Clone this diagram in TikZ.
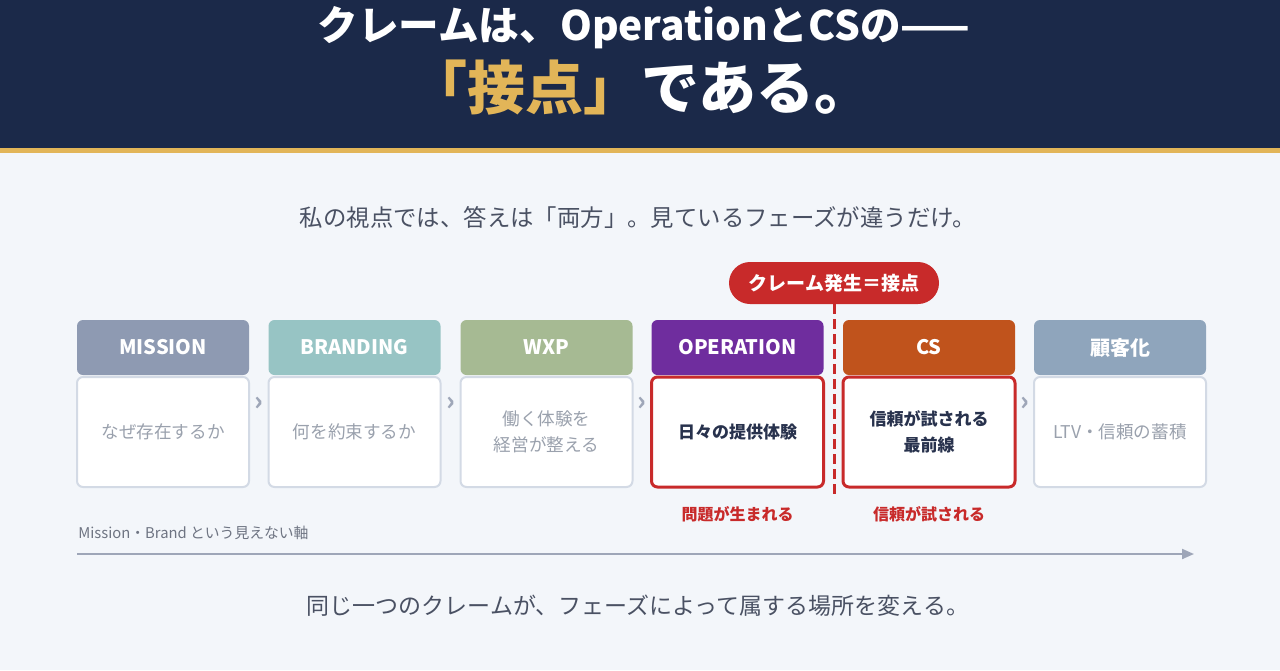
\documentclass[tikz,border=0pt]{standalone}
\usepackage{fontspec}
\setmainfont{Noto Sans CJK JP}
\usetikzlibrary{positioning,arrows.meta,calc}

\definecolor{navy}{HTML}{1B2949}
\definecolor{gold}{HTML}{E2B558}
\definecolor{pagebg}{HTML}{F3F6FA}
\definecolor{inktext}{HTML}{4A5163}
\definecolor{softtext}{HTML}{9AA1AD}
\definecolor{darktext}{HTML}{28324D}
\definecolor{claimred}{HTML}{C82A2A}
\definecolor{edgegrey}{HTML}{D3DAE5}
\definecolor{axisgrey}{HTML}{9EA6B8}
\definecolor{cmis}{HTML}{8E9AB2}
\definecolor{cbrd}{HTML}{97C4C4}
\definecolor{cwxp}{HTML}{A6BA93}
\definecolor{cops}{HTML}{6F2D9E}
\definecolor{ccs}{HTML}{C0531C}
\definecolor{ccust}{HTML}{8FA5BC}

\tikzset{
  headbox/.style={rounded corners=3pt, minimum width=86pt, minimum height=27.5pt,
    text=white, font=\bfseries\fontsize{10}{12}\selectfont, inner sep=0pt},
  plainbody/.style={draw=edgegrey, line width=1pt, fill=white, rounded corners=3pt,
    minimum width=86pt, minimum height=55pt, align=center, text=softtext,
    font=\fontsize{8.8}{13}\selectfont, inner sep=0pt},
  hotbody/.style={plainbody, draw=claimred, line width=1.5pt, text=darktext,
    font=\bfseries\fontsize{8.5}{13}\selectfont},
  chev/.style={text=axisgrey, font=\bfseries\fontsize{13}{13}\selectfont, inner sep=0pt},
  redlabel/.style={text=claimred, font=\bfseries\fontsize{8}{10}\selectfont, inner sep=0pt},
  badge/.style={fill=claimred, rounded corners=10.5pt, minimum width=105pt, minimum height=21pt,
    text=white, font=\bfseries\fontsize{9.5}{11}\selectfont, inner sep=0pt},
  cutline/.style={draw=claimred, line width=1.5pt, dash pattern=on 5pt off 2.5pt},
  axisarrow/.style={draw=axisgrey, line width=1pt, -{Triangle[length=6pt,width=5pt]}},
}

\begin{document}
\begin{tikzpicture}[x=0.5pt,y=-0.5pt]
  \useasboundingbox (0,0) rectangle (1280,670);
  \fill[pagebg] (0,0) rectangle (1280,670);

  % bandeau du titre
  \fill[navy] (0,0) rectangle (1280,148);
  \fill[gold] (0,148) rectangle (1280,153);
  \node[text=white, font=\bfseries\fontsize{20.3}{24}\selectfont] (title-a) at (644,28) {クレームは、OperationとCSの——};
  \node[text=white, font=\bfseries\fontsize{29}{32}\selectfont] (title-b) at (641,88) {{\color{gold}「接点」}である。};

  \node[text=inktext, font=\fontsize{11.7}{14}\selectfont] (lead) at (638,217) {私の視点では、答えは「両方」。見ているフェーズが違うだけ。};

  % phases
  \foreach \n/\cx/\hd/\hc/\bd/\bs in {
      mis/163/MISSION/cmis/{なぜ存在するか}/plainbody,
      brd/354.5/BRANDING/cbrd/{何を約束するか}/plainbody,
      wxp/546.5/WXP/cwxp/{働く体験を\\経営が整える}/plainbody,
      ops/737.5/OPERATION/cops/{日々の提供体験}/hotbody,
      cs/929/CS/ccs/{信頼が試される\\最前線}/hotbody,
      cust/1120/顧客化/ccust/{LTV・信頼の蓄積}/plainbody} {
    \node[headbox, fill=\hc] (head-\n) at (\cx,347.5) {\hd};
    \node[\bs] (body-\n) at (\cx,432) {\bd};
  }

  % chevrons
  \foreach \a/\b in {mis/brd, brd/wxp, wxp/ops, cs/cust}
    \node[chev] (chev-\a) at ($($(body-\a.north east)!.5!(body-\b.north west)$)+(0,28)$) {›};

  % point de contact
  \node[badge] (badge) at (834,283) {クレーム発生＝接点};
  \coordinate (cut-end) at (834,495);
  \draw[cutline] (badge.south) -- (cut-end);

  \node[redlabel, below=9pt of body-ops] (ops-note) {問題が生まれる};
  \node[redlabel, below=9pt of body-cs] (cs-note) {信頼が試される};

  % axe
  \node[text=inktext!80, anchor=west, inner sep=0pt, font=\fontsize{7.4}{9}\selectfont] (axis-lbl) at (78,533) {Mission・Brand という見えない軸};
  \coordinate (axis-start) at (77,554);
  \coordinate (axis-end) at (1194,554);
  \draw[axisarrow] (axis-start) -- (axis-end);

  \node[text=inktext, font=\fontsize{11.5}{14}\selectfont] (closing) at (638,606) {同じ一つのクレームが、フェーズによって属する場所を変える。};
\end{tikzpicture}
\end{document}
